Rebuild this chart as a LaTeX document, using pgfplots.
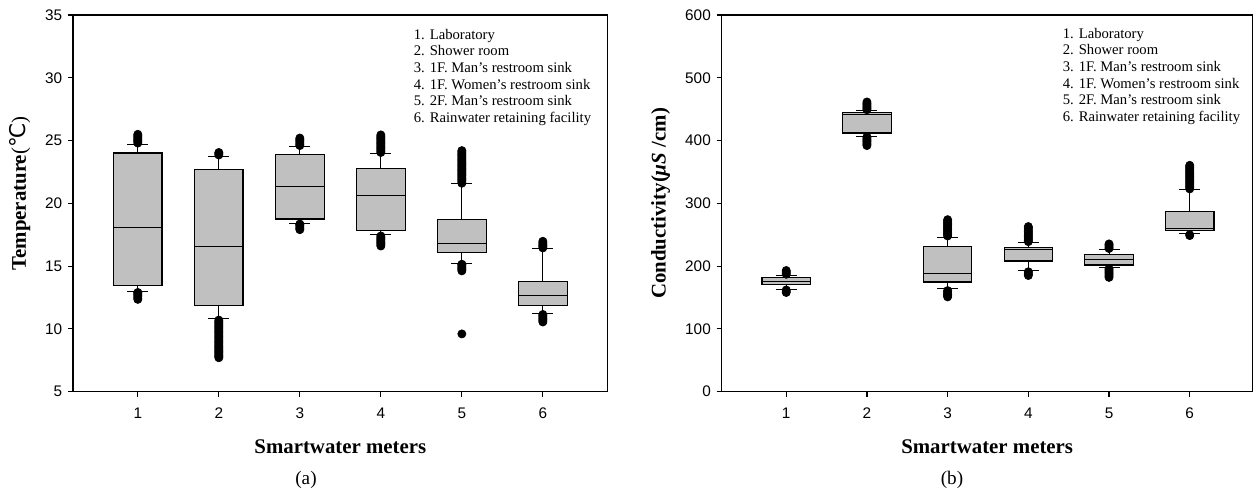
\documentclass[border=0pt]{standalone}
\usepackage{pgfplots}
\pgfplotsset{compat=1.18}
\usepackage{fontspec}
\setmainfont{Liberation Serif}
\newfontfamily\arial{Liberation Sans}
\newfontfamily\dejavu{DejaVu Sans}
\definecolor{boxgray}{RGB}{192,192,192}
\pgfplotsset{
  myaxis/.style={
    scale only axis, height=226pt, anchor=south west,
    xmin=0.2, xtick={1,...,6},
    tick align=outside, xtick pos=bottom, ytick pos=left,
    major tick length=3pt,
    axis line style={line width=0.8pt},
    every tick/.style={line width=0.7pt, black},
    ticklabel style={font=\arial\fontsize{9.2pt}{11pt}\selectfont},
    xticklabel style={yshift=-3pt},
    /pgf/number format/assume math mode=true,
    label style={font=\bfseries\fontsize{12.5pt}{14pt}\selectfont},
    xlabel={Smartwater meters},
    xlabel style={at={(axis description cs:0.5,-0.147)}, anchor=center},
    unbounded coords=jump,
    clip=false,
  },
  boxst/.style={draw=black, fill=boxgray, line width=0.75pt, line join=miter, mark=none},
  linest/.style={draw=black, line width=0.6pt, mark=none},
  outst/.style={only marks, mark=*, mark size=2.45pt, mark options={draw=black, fill=black}},
}
\begin{document}
\begin{tikzpicture}
% ---------------- (a) Temperature ----------------
\begin{axis}[myaxis, at={(43.8pt,62pt)}, width=320.8pt, xmax=6.8,
  ymin=5, ymax=35, ytick={5,10,...,35},
  ylabel={Temperature{\mdseries(}{\dejavu\mdseries\fontsize{13pt}{14pt}\selectfont ℃}{\mdseries)}},
  ylabel style={at={(axis description cs:-0.099,0.526)}, anchor=center}]
% boxes (lower quartile to upper quartile)
\addplot[boxst] coordinates {(0.7,13.48)(1.3,13.48)(1.3,24.0)(0.7,24.0)} -- cycle;
\addplot[boxst] coordinates {(1.7,11.88)(2.3,11.88)(2.3,22.72)(1.7,22.72)} -- cycle;
\addplot[boxst] coordinates {(2.7,18.76)(3.3,18.76)(3.3,23.88)(2.7,23.88)} -- cycle;
\addplot[boxst] coordinates {(3.7,17.83)(4.3,17.83)(4.3,22.77)(3.7,22.77)} -- cycle;
\addplot[boxst] coordinates {(4.7,16.08)(5.3,16.08)(5.3,18.74)(4.7,18.74)} -- cycle;
\addplot[boxst] coordinates {(5.7,11.85)(6.3,11.85)(6.3,13.8)(5.7,13.8)} -- cycle;
% medians
\addplot[linest] coordinates {(0.7,18.07)(1.3,18.07)(1,nan)
 (1.7,16.55)(2.3,16.55)(2,nan) (2.7,21.33)(3.3,21.33)(3,nan)
 (3.7,20.65)(4.3,20.65)(4,nan) (4.7,16.8)(5.3,16.8)(5,nan) (5.7,12.65)(6.3,12.65)};
% whiskers and caps
\addplot[linest] coordinates {
 (1,24.0)(1,24.71)(1,nan)(0.87,24.71)(1.13,24.71)(1,nan)(1,13.48)(1,12.97)(1,nan)(0.87,12.97)(1.13,12.97)(1,nan)
 (2,22.72)(2,23.73)(2,nan)(1.87,23.73)(2.13,23.73)(2,nan)(2,11.88)(2,10.82)(2,nan)(1.87,10.82)(2.13,10.82)(2,nan)
 (3,23.88)(3,24.52)(3,nan)(2.87,24.52)(3.13,24.52)(3,nan)(3,18.76)(3,18.42)(3,nan)(2.87,18.42)(3.13,18.42)(3,nan)
 (4,22.77)(4,23.94)(4,nan)(3.87,23.94)(4.13,23.94)(4,nan)(4,17.83)(4,17.49)(4,nan)(3.87,17.49)(4.13,17.49)(4,nan)
 (5,18.74)(5,21.55)(5,nan)(4.87,21.55)(5.13,21.55)(5,nan)(5,16.08)(5,15.23)(5,nan)(4.87,15.23)(5.13,15.23)(5,nan)
 (6,13.8)(6,16.4)(6,nan)(5.87,16.4)(6.13,16.4)(6,nan)(6,11.85)(6,11.25)(6,nan)(5.87,11.25)(6.13,11.25)};
% outliers
\addplot[outst] coordinates {
 (1,24.8)(1,24.9)(1,25.0)(1,25.1)(1,25.2)(1,25.3)(1,25.4)(1,25.5)
 (1,12.35)(1,12.45)(1,12.55)(1,12.65)(1,12.75)(1,12.85)(1,12.9)
 (2,23.85)(2,23.95)(2,24.05)
 (2,7.7)(2,7.8)(2,7.9)(2,8.0)(2,8.1)(2,8.2)(2,8.3)(2,8.4)(2,8.5)(2,8.6)(2,8.7)(2,8.8)(2,8.9)(2,9.0)(2,9.1)(2,9.2)(2,9.3)(2,9.4)(2,9.5)(2,9.6)(2,9.7)(2,9.8)(2,9.9)(2,10.0)(2,10.1)(2,10.2)(2,10.3)(2,10.4)(2,10.5)(2,10.6)(2,10.7)
 (3,24.6)(3,24.7)(3,24.8)(3,24.9)(3,25.0)(3,25.1)(3,25.2)
 (3,17.9)(3,18.0)(3,18.1)(3,18.2)(3,18.3)(3,18.35)
 (4,24.05)(4,24.15)(4,24.25)(4,24.35)(4,24.45)(4,24.55)(4,24.65)(4,24.75)(4,24.85)(4,24.95)(4,25.05)(4,25.15)(4,25.25)(4,25.35)(4,25.45)
 (4,16.6)(4,16.7)(4,16.8)(4,16.9)(4,17.0)(4,17.1)(4,17.2)(4,17.3)(4,17.4)
 (5,21.6)(5,21.7)(5,21.8)(5,21.9)(5,22.0)(5,22.1)(5,22.2)(5,22.3)(5,22.4)(5,22.5)(5,22.6)(5,22.7)(5,22.8)(5,22.9)(5,23.0)(5,23.1)(5,23.2)(5,23.3)(5,23.4)(5,23.5)(5,23.6)(5,23.7)(5,23.8)(5,23.9)(5,24.0)(5,24.1)(5,24.2)
 (5,14.62)(5,14.7)(5,14.8)(5,14.9)(5,15.0)(5,15.1)(5,15.15)(5,9.6)
 (6,16.45)(6,16.55)(6,16.65)(6,16.75)(6,16.85)(6,16.98)
 (6,10.55)(6,10.65)(6,10.75)(6,10.85)(6,10.95)(6,11.05)(6,11.15)};
\node[anchor=north west, inner sep=0pt, align=left, font=\fontsize{8.8pt}{10pt}\selectfont]
  at (axis description cs:0.637,0.964)
  {1. Laboratory\\2. Shower room\\3. 1F. Man's restroom sink\\4. 1F. Women's restroom sink\\5. 2F. Man's restroom sink\\6. Rainwater retaining facility};
\end{axis}
% ---------------- (b) Conductivity ----------------
\begin{axis}[myaxis, at={(433pt,62pt)}, width=318.6pt, xmax=6.78,
  ymin=0, ymax=600, ytick={0,100,...,600},
  ylabel={Conductivity(\textit{µS} /cm)},
  ylabel style={at={(axis description cs:-0.115,0.50)}, anchor=center}]
\addplot[boxst] coordinates {(0.7,170.5)(1.3,170.5)(1.3,181.7)(0.7,181.7)} -- cycle;
\addplot[boxst] coordinates {(1.7,412.2)(2.3,412.2)(2.3,445)(1.7,445)} -- cycle;
\addplot[boxst] coordinates {(2.7,174.8)(3.3,174.8)(3.3,231.1)(2.7,231.1)} -- cycle;
\addplot[boxst] coordinates {(3.7,208.3)(4.3,208.3)(4.3,230)(3.7,230)} -- cycle;
\addplot[boxst] coordinates {(4.7,201.9)(5.3,201.9)(5.3,218.8)(4.7,218.8)} -- cycle;
\addplot[boxst] coordinates {(5.7,256.6)(6.3,256.6)(6.3,287.3)(5.7,287.3)} -- cycle;
\addplot[linest] coordinates {(0.7,175.8)(1.3,175.8)(1,nan)
 (1.7,441.4)(2.3,441.4)(2,nan) (2.7,187.6)(3.3,187.6)(3,nan)
 (3.7,226.3)(4.3,226.3)(4,nan) (4.7,210.4)(5.3,210.4)(5,nan) (5.7,260.2)(6.3,260.2)};
\addplot[linest] coordinates {
 (1,181.7)(1,185.4)(1,nan)(0.87,185.4)(1.13,185.4)(1,nan)(1,170.5)(1,163)(1,nan)(0.87,163)(1.13,163)(1,nan)
 (2,445)(2,447.8)(2,nan)(1.87,447.8)(2.13,447.8)(2,nan)(2,412.2)(2,406.9)(2,nan)(1.87,406.9)(2.13,406.9)(2,nan)
 (3,231.1)(3,245.9)(3,nan)(2.87,245.9)(3.13,245.9)(3,nan)(3,174.8)(3,163.6)(3,nan)(2.87,163.6)(3.13,163.6)(3,nan)
 (4,230)(4,237)(4,nan)(3.87,237)(4.13,237)(4,nan)(4,208.3)(4,192.8)(4,nan)(3.87,192.8)(4.13,192.8)(4,nan)
 (5,218.8)(5,226.3)(5,nan)(4.87,226.3)(5.13,226.3)(5,nan)(5,201.9)(5,197.6)(5,nan)(4.87,197.6)(5.13,197.6)(5,nan)
 (6,287.3)(6,321.4)(6,nan)(5.87,321.4)(6.13,321.4)(6,nan)(6,256.6)(6,251.3)(6,nan)(5.87,251.3)(6.13,251.3)};
\addplot[outst] coordinates {
 (1,187)(1,189)(1,191)(1,193)(1,158)(1,160)(1,162)
 (2,449)(2,451)(2,453)(2,455)(2,457)(2,459)(2,461.5)
 (2,392)(2,394)(2,396)(2,398)(2,400)(2,402)(2,404)(2,406)
 (3,248)(3,250)(3,252)(3,254)(3,256)(3,258)(3,260)(3,262)(3,264)(3,266)(3,268)(3,270)(3,272)(3,274)
 (3,151)(3,153)(3,155)(3,157)(3,159)(3,161)
 (4,239)(4,241)(4,243)(4,245)(4,247)(4,249)(4,251)(4,253)(4,255)(4,257)(4,259)(4,261)(4,263)
 (4,185)(4,187)(4,189)(4,191)
 (5,228)(5,230)(5,232)(5,234)(5,235.4)
 (5,182)(5,184)(5,186)(5,188)(5,190)(5,192)(5,194)(5,196)
 (6,323)(6,325)(6,327)(6,329)(6,331)(6,333)(6,335)(6,337)(6,339)(6,341)(6,343)(6,345)(6,347)(6,349)(6,351)(6,353)(6,355)(6,357)(6,359)(6,360.6)
 (6,248.6)(6,250)};
\node[anchor=north west, inner sep=0pt, align=left, font=\fontsize{8.8pt}{10pt}\selectfont]
  at (axis description cs:0.642,0.966)
  {1. Laboratory\\2. Shower room\\3. 1F. Man's restroom sink\\4. 1F. Women's restroom sink\\5. 2F. Man's restroom sink\\6. Rainwater retaining facility};
\end{axis}
\node[font=\fontsize{11.5pt}{13pt}\selectfont] at (183.6pt,9pt) {(a)};
\node[font=\fontsize{11.5pt}{13pt}\selectfont] at (571.2pt,9pt) {(b)};
\pgfresetboundingbox
\path[use as bounding box] (0,0) rectangle (751.8pt,297pt);
\end{tikzpicture}
\end{document}
